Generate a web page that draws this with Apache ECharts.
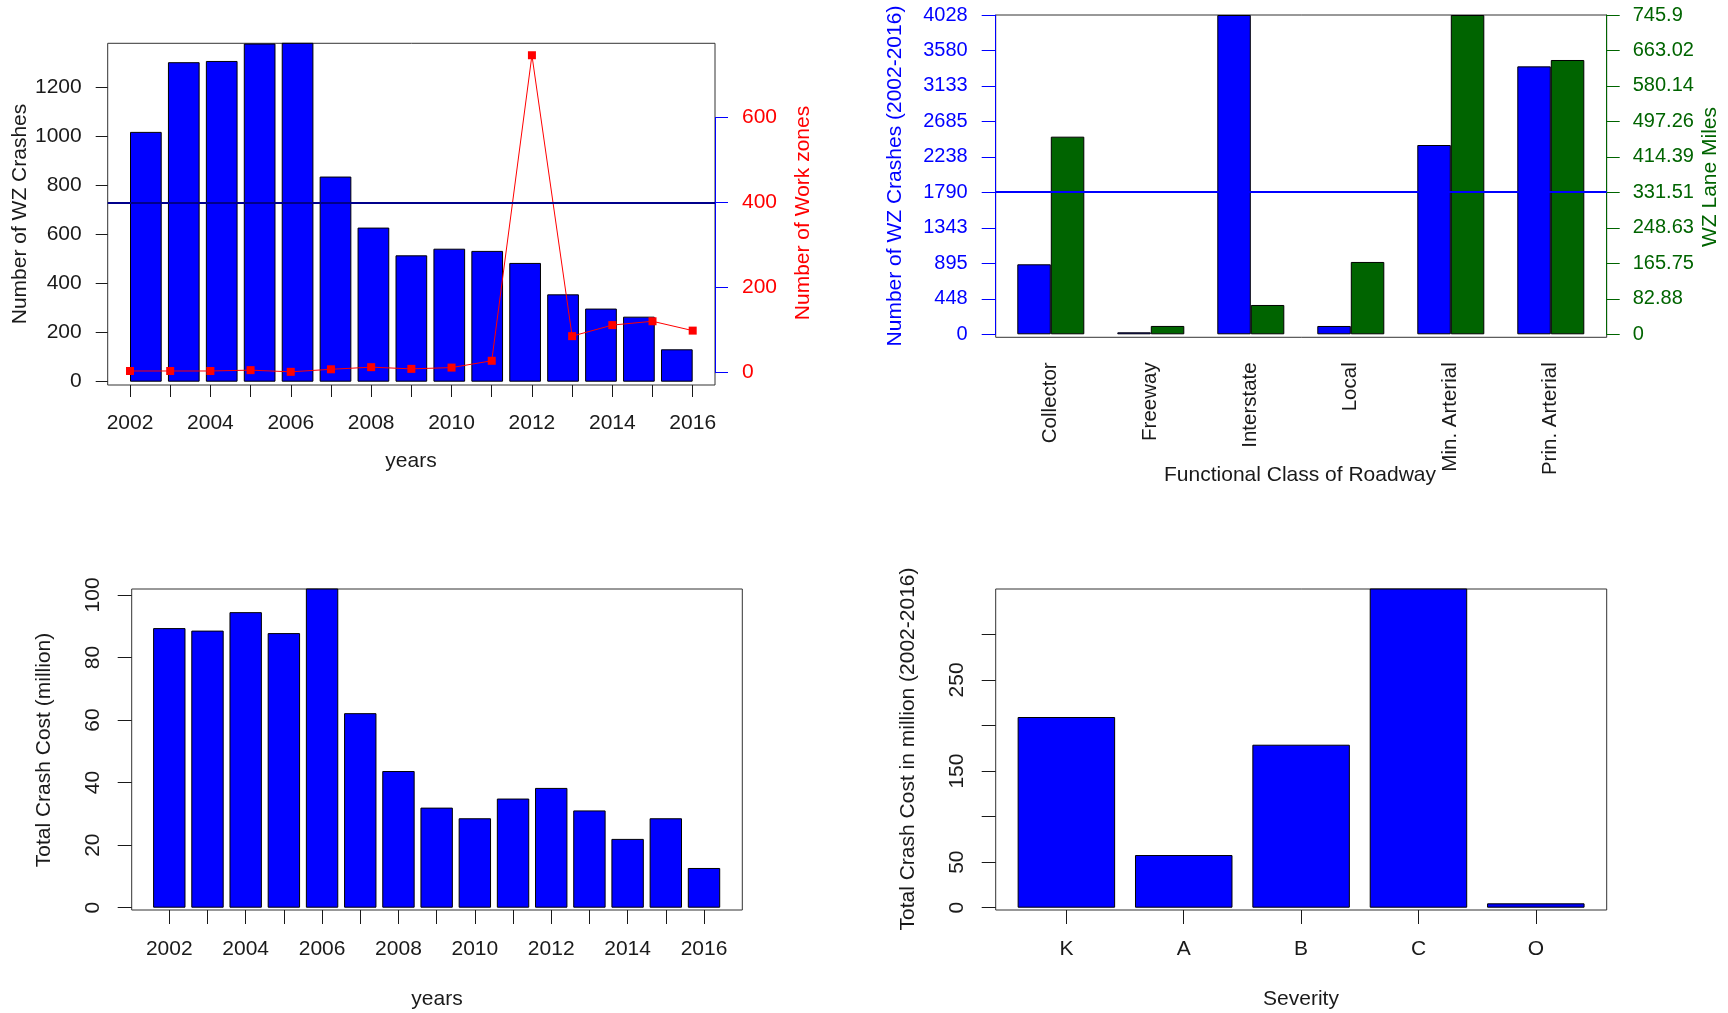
<!DOCTYPE html>
<html>
<head>
<meta charset="utf-8">
<script src="https://cdn.jsdelivr.net/npm/echarts@6/dist/echarts.min.js"></script>
<style>
html,body{margin:0;padding:0;background:#fff;}
#chart{width:1728px;height:1013px;}
</style>
</head>
<body>
<div id="chart"></div>
<script>
// ---------- data ----------
const years = [2002,2003,2004,2005,2006,2007,2008,2009,2010,2011,2012,2013,2014,2015,2016];
const yearLabels = [2002,2004,2006,2008,2010,2012,2014,2016];
const wzCrashes = [1018,1302,1307,1378,1395,836,628,515,542,533,484,356,298,265,132];
const workZones = [4,4,4,6,2,8,13,9,12,28,747,86,112,121,99];
const workZoneRef = 400;
const crashTicksTL = [0,200,400,600,800,1000,1200];
const workZoneTicks = [0,200,400,600];

const roadClasses = ['Collector','Freeway','Interstate','Local','Min. Arterial','Prin. Arterial'];
const classCrashes = [883,25,4028,105,2388,3380];
const laneMiles = [461.7,19.5,68.5,169,745.9,640.8];
const classCrashMean = 1800;
const crashTickLabels = ['0','448','895','1343','1790','2238','2685','3133','3580','4028'];
const laneTickLabels = ['0','82.88','165.75','248.63','331.51','414.39','497.26','580.14','663.02','745.9'];

const crashCost = [89.4,88.6,94.5,87.8,105,62.2,43.7,32.0,28.6,34.9,38.3,31.1,22.0,28.6,12.7];
const costTicks = [0,20,40,60,80,100];

const severity = ['K','A','B','C','O'];
const severityCost = [209.3,57.8,178.9,352,4.8];
const sevTicks = [0,50,100,150,200,250,300];
const sevLabels = [0,50,150,250];

// ---------- styling ----------
const FONT = "'Liberation Sans', Arial, Helvetica, sans-serif";
const TXT = '#1a1a1a';
const BLUE = '#0000ff';
const GREEN = '#006400';
const RED = '#ff0000';
const FS = 21;

const hiddenVal = (grid, min, max) => ({type:'value', gridIndex:grid, min:min, max:max, show:false, axisLine:{onZero:false}});
const barStyle = (c) => ({color:c, borderColor:'#000', borderWidth:1});
const lbl = (extra) => Object.assign({fontFamily:FONT, fontSize:FS, color:TXT}, extra);
const noLine = {show:false, onZero:false};
const txt = (x, y, text, color, rot) => ({
  type:'text', x:x, y:y, rotation: rot ? Math.PI/2 : 0,
  style:{text:text, fill:color, font: FS + "px " + FONT, fontSize:FS, fontFamily:FONT,
         textAlign:'center', textVerticalAlign:'middle', align:'center', verticalAlign:'middle'}
});

const option = {
  animation:false,
  backgroundColor:'#fff',
  grid:[
    // 0 top-left frame
    {left:107.7, top:43.3, width:607.3, height:341.7, show:true, borderColor:'#333', borderWidth:1},
    // 1 top-left bars
    {left:126.9, top:43.3, width:568.9, height:338.4},
    // 2 top-left line
    {left:130, top:43.3, width:562.7, height:338.4},
    // 3 top-left right axis (0-600)
    {left:130, top:117.7, width:585, height:255},
    // 4 top-right frame
    {left:995.7, top:15, width:611, height:322.3, show:true, borderColor:'#333', borderWidth:1},
    // 5 top-right data
    {left:1000.8, top:15, width:600, height:319.3},
    // 6 bottom-left frame
    {left:131.7, top:589, width:610.6, height:321, show:true, borderColor:'#333', borderWidth:1},
    // 7 bottom-left data
    {left:150.2, top:589, width:572.9, height:318.7},
    // 8 bottom-right frame
    {left:995.7, top:589, width:611, height:321, show:true, borderColor:'#333', borderWidth:1},
    // 9 bottom-right data
    {left:1007.7, top:589, width:586.8, height:318.7}
  ],
  xAxis:[
    hiddenVal(0,0,1),
    {type:'category', gridIndex:1, data:years, show:false, axisLine:{onZero:false}},
    {type:'value', gridIndex:2, min:2002, max:2016, offset:3.3,
      axisLine:noLine, splitLine:{show:false},
      axisTick:{show:true, length:12, customValues:years, lineStyle:{color:TXT}},
      axisLabel:lbl({customValues:yearLabels, margin:28, formatter:(v)=>String(v)})},
    hiddenVal(3,0,1),
    hiddenVal(4,0,1),
    {type:'category', gridIndex:5, data:roadClasses,
      axisLine:noLine, axisTick:{show:false}, splitLine:{show:false},
      axisLabel:lbl({rotate:90, margin:28, interval:0, fontSize:20.5})},
    hiddenVal(6,0,1),
    {type:'category', gridIndex:7, data:years, offset:2.3,
      axisLine:noLine, splitLine:{show:false},
      axisTick:{show:true, alignWithLabel:true, interval:0, length:14, lineStyle:{color:TXT}},
      axisLabel:lbl({interval:1, margin:29})},
    hiddenVal(8,0,1),
    {type:'category', gridIndex:9, data:severity, offset:2.3,
      axisLine:noLine, splitLine:{show:false},
      axisTick:{show:true, alignWithLabel:true, interval:0, length:14, lineStyle:{color:TXT}},
      axisLabel:lbl({interval:0, margin:29})}
  ],
  yAxis:[
    hiddenVal(0,-28.9,775.1),                       // 0
    {type:'value', gridIndex:1, min:0, max:1379, offset:19.2, position:'left',   // 1
      axisLine:noLine, splitLine:{show:false},
      axisTick:{show:true, length:12, customValues:crashTicksTL, lineStyle:{color:TXT}},
      axisLabel:lbl({customValues:crashTicksTL, margin:26, formatter:(v)=>String(v)})},
    hiddenVal(2,-21.2,775.1),                       // 2
    {type:'value', gridIndex:3, min:0, max:600, position:'right',   // 3
      axisLine:{show:true, onZero:false, lineStyle:{color:BLUE, width:1}}, splitLine:{show:false},
      axisTick:{show:true, length:13, customValues:workZoneTicks, lineStyle:{color:BLUE}},
      axisLabel:lbl({customValues:workZoneTicks, margin:27, color:RED, formatter:(v)=>String(v)})},
    hiddenVal(4,-37.8,4028),                        // 4
    {type:'value', gridIndex:5, min:0, max:4028, offset:5.1, position:'left',   // 5
      axisLine:{show:true, onZero:false, lineStyle:{color:BLUE, width:1}}, splitLine:{show:false},
      axisTick:{show:true, length:14, customValues:crashTickLabels.map(Number), lineStyle:{color:BLUE}},
      axisLabel:lbl({customValues:crashTickLabels.map(Number), margin:28, color:BLUE, fontSize:20,
        formatter:(v)=>crashTickLabels[crashTickLabels.map(Number).indexOf(v)]})},
    {type:'value', gridIndex:5, min:0, max:745.9, offset:5.9, position:'right',   // 6
      axisLine:{show:true, onZero:false, lineStyle:{color:GREEN, width:1}}, splitLine:{show:false},
      axisTick:{show:true, length:13, customValues:laneTickLabels.map(Number), lineStyle:{color:GREEN}},
      axisLabel:lbl({customValues:laneTickLabels.map(Number), margin:26, color:GREEN, fontSize:20,
        formatter:(v)=>laneTickLabels[laneTickLabels.map(Number).indexOf(v)]})},
    hiddenVal(6,0,1),                               // 7
    {type:'value', gridIndex:7, min:0, max:101.9, offset:18.5, position:'left',   // 8
      axisLine:noLine, splitLine:{show:false},
      axisTick:{show:true, length:14, customValues:costTicks, lineStyle:{color:TXT}},
      axisLabel:lbl({customValues:costTicks, rotate:90, margin:28, formatter:(v)=>String(v)})},
    hiddenVal(8,0,1),                               // 9
    {type:'value', gridIndex:9, min:0, max:349.8, offset:12, position:'left',   // 10
      axisLine:noLine, splitLine:{show:false},
      axisTick:{show:true, length:14, customValues:sevTicks, lineStyle:{color:TXT}},
      axisLabel:lbl({customValues:sevLabels, rotate:90, margin:28, formatter:(v)=>String(v)})}
  ],
  series:[
    {type:'bar', xAxisIndex:1, yAxisIndex:1, data:wzCrashes, barWidth:31.7, clip:true, itemStyle:barStyle(BLUE)},
    {type:'line', xAxisIndex:0, yAxisIndex:0, data:[], silent:true,
      markLine:{silent:true, symbol:'none', label:{show:false}, lineStyle:{color:'#00008b', width:2, type:'solid'},
        data:[{yAxis:workZoneRef}]}},
    {type:'line', xAxisIndex:2, yAxisIndex:2, data:years.map((y,i)=>[y, workZones[i]]),
      symbol:'rect', symbolSize:8, itemStyle:{color:RED}, lineStyle:{color:RED, width:1}},
    {type:'bar', xAxisIndex:5, yAxisIndex:5, data:classCrashes, barWidth:33.5, barGap:'0%', clip:true, itemStyle:barStyle(BLUE)},
    {type:'bar', xAxisIndex:5, yAxisIndex:6, data:laneMiles, barWidth:33.5, barGap:'0%', clip:true, itemStyle:barStyle(GREEN)},
    {type:'line', xAxisIndex:4, yAxisIndex:4, data:[], silent:true,
      markLine:{silent:true, symbol:'none', label:{show:false}, lineStyle:{color:BLUE, width:2, type:'solid'},
        data:[{yAxis:classCrashMean}]}},
    {type:'bar', xAxisIndex:7, yAxisIndex:8, data:crashCost, barWidth:32.4, clip:true, itemStyle:barStyle(BLUE)},
    {type:'bar', xAxisIndex:9, yAxisIndex:10, data:severityCost, barWidth:97.5, clip:true, itemStyle:barStyle(BLUE)}
  ],
  graphic:[
    txt(20, 214, 'Number of WZ Crashes', TXT, true),
    txt(803, 213, 'Number of Work zones', RED, true),
    txt(411, 461, 'years', TXT, false),
    txt(895, 176, 'Number of WZ Crashes (2002-2016)', BLUE, true),
    txt(1710, 177, 'WZ Lane Miles', GREEN, true),
    txt(1300, 475, 'Functional Class of Roadway', TXT, false),
    txt(44, 750, 'Total Crash Cost (million)', TXT, true),
    txt(437, 999, 'years', TXT, false),
    txt(908, 749, 'Total Crash Cost in million (2002-2016)', TXT, true),
    txt(1301, 999, 'Severity', TXT, false)
  ]
};

const chart = echarts.init(document.getElementById('chart'), null, {renderer:'canvas'});
chart.setOption(option);
</script>
</body>
</html>
